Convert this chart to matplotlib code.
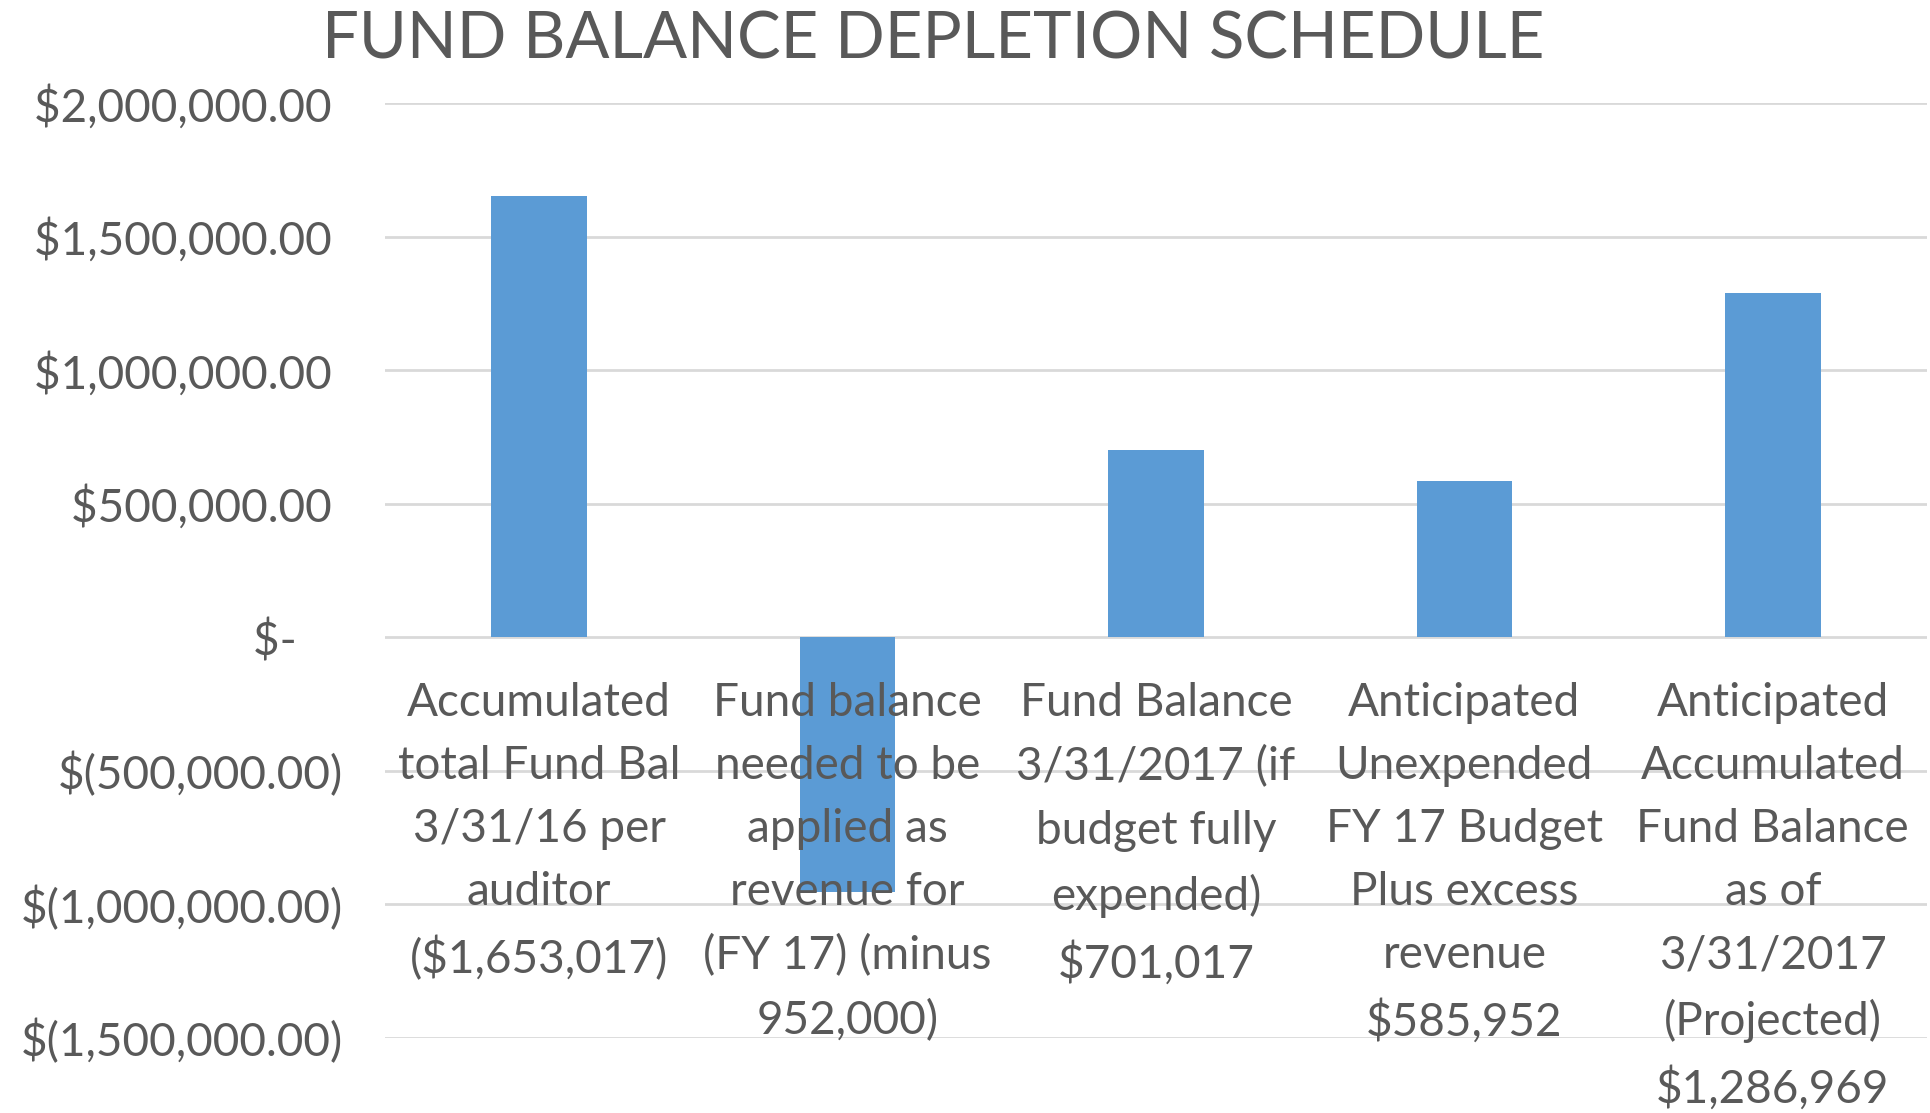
import numpy as np
import matplotlib.pyplot as plt
from matplotlib.ticker import FuncFormatter

# data
categories = [
    "Accumulated\ntotal Fund Bal\n3/31/16 per\nauditor\n($1,653,017)",
    "Fund balance\nneeded to be\napplied as\nrevenue for\n(FY 17) (minus\n952,000)",
    "Fund Balance\n3/31/2017 (if\nbudget fully\nexpended)\n$701,017",
    "Anticipated\nUnexpended\nFY 17 Budget\nPlus excess\nrevenue\n$585,952",
    "Anticipated\nAccumulated\nFund Balance\nas of\n3/31/2017\n(Projected)\n$1,286,969",
]
values = [1653017, -952000, 701017, 585952, 1286969]
yticks = [-1500000, -1000000, -500000, 0, 500000, 1000000, 1500000, 2000000]

bar_color = '#5B9BD5'
text_color = '#595959'
grid_color = '#D9D9D9'

plt.rcParams['font.family'] = ['Lato', 'DejaVu Sans']


def money(v, pos=None):
    if v == 0:
        return '$-    '
    if v < 0:
        return '$({:,.2f})'.format(-v)
    return '${:,.2f} '.format(v)


fig = plt.figure(figsize=(19.31, 11.13), dpi=100)
ax = fig.add_axes([385/1931, 1 - 1038/1113, (1927-385)/1931, (1038-103)/1113])

x = np.arange(len(categories))
ax.bar(x, values, width=0.31, color=bar_color, zorder=2)

ax.set_xlim(-0.5, len(categories) - 0.5)
ax.set_ylim(-1500000, 2000000)
ax.set_yticks(yticks)
ax.yaxis.set_major_formatter(FuncFormatter(money))
ax.tick_params(axis='y', length=0, pad=30, labelsize=33, labelcolor=text_color)
ax.set_xticks([])
ax.grid(axis='y', color=grid_color, linewidth=2, zorder=0)
for s in ax.spines.values():
    s.set_visible(False)

for i, lab in enumerate(categories):
    ax.annotate(lab, xy=(i, 0), xytext=(0, -32), textcoords='offset points',
                ha='center', va='top', fontsize=33, color=text_color,
                linespacing=1.62, zorder=3)

fig.text(933/1931, 1 - 40/1113, 'FUND BALANCE DEPLETION SCHEDULE',
         ha='center', va='center', fontsize=47, color=text_color)

plt.savefig('out.png', dpi=100)
